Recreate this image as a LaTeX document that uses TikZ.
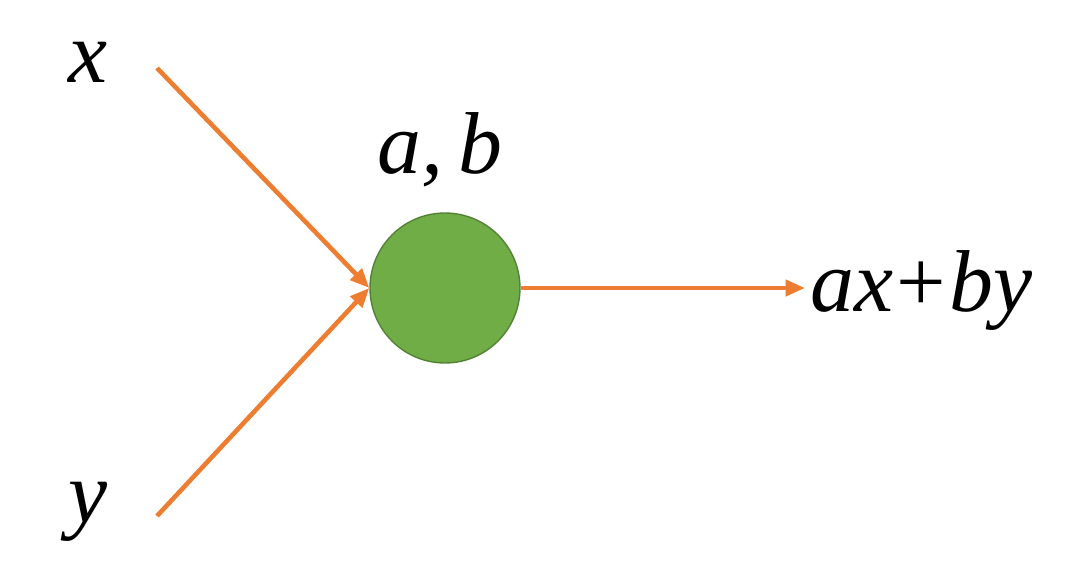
\documentclass[tikz,border=0pt]{standalone}
\usepackage{fontspec}
\setmainfont{Liberation Serif}
\definecolor{edgeorange}{RGB}{237,125,49}
\definecolor{nodegreen}{RGB}{112,173,71}
\definecolor{nodeborder}{RGB}{84,130,53}
\usetikzlibrary{arrows.meta}
\tikzset{every picture/.style={/utils/exec={\fontsize{50}{56}\selectfont\itshape}}}

\begin{document}
\begin{tikzpicture}[x=0.02cm,y=-0.02cm,
  link/.style={draw=edgeorange, line width=2.6pt, -{Triangle[length=11pt,width=9pt]}}]
  \useasboundingbox (0,0) rectangle (1080,572);

  \node [circle, minimum size=3cm, fill=nodegreen, draw=nodeborder, line width=0.8pt] (neuron) at (445,288) {};

  \node (inx) at (88,62) {x};
  \node (iny) at (88,512) {y};
  \node (params) at (440,150) {a,\,b};
  \node [anchor=west, inner sep=0pt] (out) at (810,290) {ax\kern2pt{\upshape+}\kern2pt by};

  \coordinate (startx) at (157,68);
  \coordinate (starty) at (157,516);
  \coordinate (endout) at (805,288);

  \draw [link] (startx) -- (neuron.west);
  \draw [link] (starty) -- (neuron.west);
  \draw [link] (neuron.east) -- (endout);
\end{tikzpicture}
\end{document}
